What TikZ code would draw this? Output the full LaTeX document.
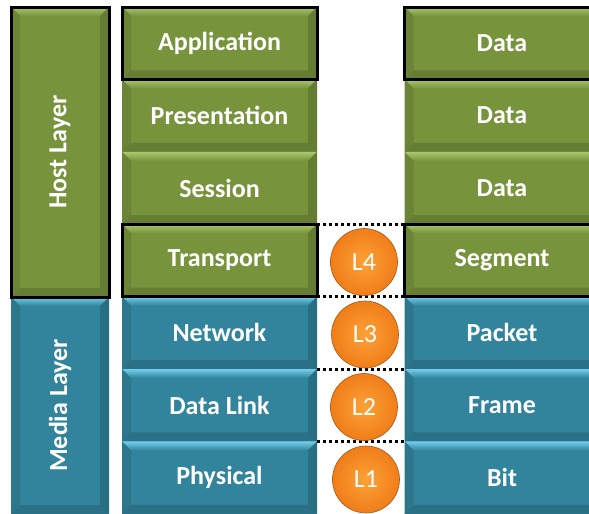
\documentclass[tikz,border=0pt]{standalone}
\usepackage{fontspec}
\setmainfont{Carlito}

\definecolor{hostgreen}{RGB}{119,147,60}
\definecolor{hostlight}{RGB}{170,200,110}
\definecolor{mediablue}{RGB}{49,132,155}
\definecolor{medialight}{RGB}{115,205,235}
\definecolor{ballorange}{RGB}{252,162,55}
\definecolor{balledge}{RGB}{240,125,25}

\tikzset{
  layer/.style={minimum width=195pt, minimum height=72.4pt, inner sep=0pt, outer sep=0pt,
    text=white, font=\fontsize{26}{30}\selectfont\bfseries},
  bevel/.style 2 args={fill=#1, path picture={
    \path (path picture bounding box.north west) coordinate (bnw)
          (path picture bounding box.north east) coordinate (bne)
          (path picture bounding box.south west) coordinate (bsw)
          (path picture bounding box.south east) coordinate (bse);
    \shade[top color=#2, bottom color=#1] (bnw) -- (bne) -- ([shift={(-9pt,-9pt)}]bne) -- ([shift={(9pt,-9pt)}]bnw) -- cycle;
    \fill[#1!90!black] (bnw) -- ([shift={(9pt,-9pt)}]bnw) -- ([shift={(9pt,9pt)}]bsw) -- (bsw) -- cycle;
    \fill[#1!84!black] (bne) -- ([shift={(-9pt,-9pt)}]bne) -- ([shift={(-9pt,9pt)}]bse) -- (bse) -- cycle;
    \fill[#1!86!black] (bsw) -- ([shift={(9pt,9pt)}]bsw) -- ([shift={(-9pt,9pt)}]bse) -- (bse) -- cycle;
  }},
  greenbox/.style={bevel={hostgreen}{hostlight}},
  bluebox/.style={bevel={mediablue}{medialight}},
  framed/.style={draw=black, line width=3pt},
  ball/.style={circle, minimum size=67pt, inner sep=0pt, draw=balledge!70!black, line width=0.6pt,
    inner color=ballorange, outer color=balledge, text=white, font=\fontsize{26}{30}\selectfont},
  dotline/.style={line width=3pt, dash pattern=on 3pt off 3pt},
}

\begin{document}
\begin{tikzpicture}[x=1pt,y=-1pt]
  \useasboundingbox (0,0) rectangle (589,514);
  % grouping column
  \node[layer, bluebox, minimum width=98pt, minimum height=217pt] (media) at (60,405.5) {\rotatebox{90}{Media Layer}};
  \node[layer, greenbox, framed, minimum width=98pt, minimum height=290pt] (host) at (60,152) {\rotatebox{90}{Host Layer}};
  % layers
  \node[layer, greenbox] (pres) at (219.5,115.6) {Presentation};
  \node[layer, greenbox] (sess) at (219.5,188.0) {Session};
  \node[layer, bluebox] (net) at (219.5,332.8) {Network};
  \node[layer, bluebox] (link) at (219.5,405.2) {Data Link};
  \node[layer, bluebox] (phys) at (219.5,477.6) {Physical};
  \node[layer, greenbox, framed] (app) at (219.5,43.2) {Application};
  \node[layer, greenbox, framed] (trans) at (219.5,260.4) {Transport};
  % data units
  \node[layer, greenbox] (data2) at (502,115.6) {Data};
  \node[layer, greenbox] (data3) at (502,188.0) {Data};
  \node[layer, bluebox] (packet) at (502,332.8) {Packet};
  \node[layer, bluebox] (frame) at (502,405.2) {Frame};
  \node[layer, bluebox] (bit) at (502,477.6) {Bit};
  \node[layer, greenbox, framed] (data1) at (502,43.2) {Data};
  \node[layer, greenbox, framed] (segment) at (502,260.4) {Segment};
  % separators
  \draw[dotline] (trans.north east) -- (segment.north west);
  \draw[dotline] (trans.south east) -- (segment.south west);
  \draw[dotline] (net.south east) -- (packet.south west);
  \draw[dotline] (link.south east) -- (frame.south west);
  % device layers
  \node[ball] (l4) at (364,262) {L4};
  \node[ball] (l3) at (365,334.5) {L3};
  \node[ball] (l2) at (364,407) {L2};
  \node[ball] (l1) at (366,479.5) {L1};
\end{tikzpicture}
\end{document}
